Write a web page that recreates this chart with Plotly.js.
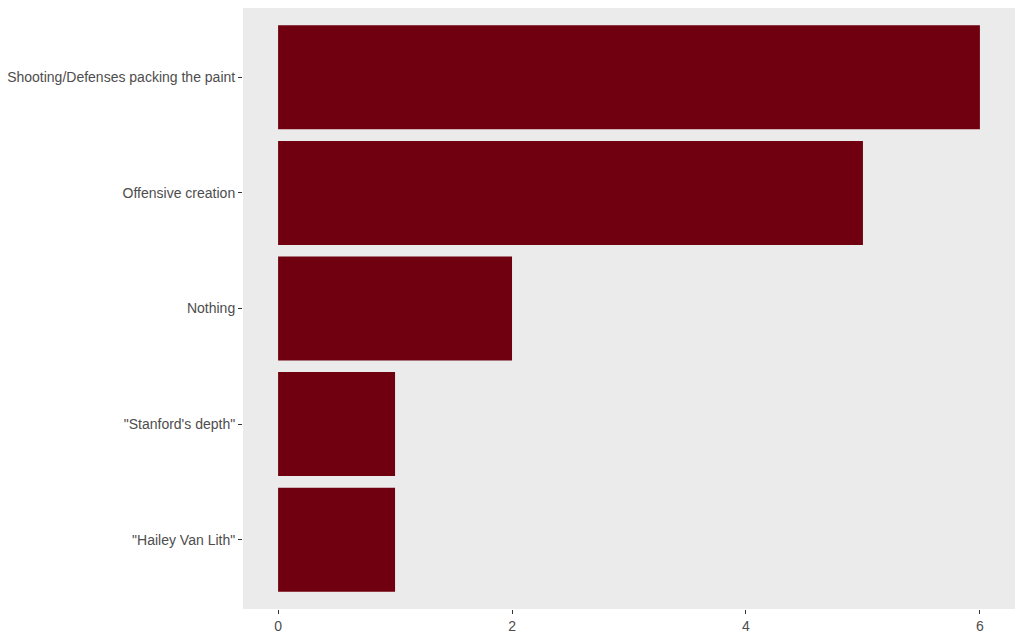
<!DOCTYPE html>
<html>
<head>
<meta charset="utf-8">
<script src="https://cdn.plot.ly/plotly-3.0.1.min.js"></script>
<style>html,body{margin:0;padding:0;background:#fff;}#chart{width:1024px;height:639px;}</style>
</head>
<body>
<div id="chart"></div>
<script>
const categories = ['"Hailey Van Lith"', '"Stanford\'s depth"', 'Nothing', 'Offensive creation', 'Shooting/Defenses packing the paint'];
const counts = [1, 1, 2, 5, 6];
const xTicks = [0, 2, 4, 6];

Plotly.newPlot('chart', [{
  type: 'bar',
  orientation: 'h',
  y: categories,
  x: counts,
  width: 0.9,
  marker: {color: '#70000f', line: {width: 0}},
  hoverinfo: 'x+y'
}], {
  width: 1024, height: 639,
  margin: {l: 243, r: 9, t: 8, b: 30},
  paper_bgcolor: '#ffffff',
  plot_bgcolor: '#ebebeb',
  showlegend: false,
  font: {family: 'Liberation Sans, Arial, sans-serif', size: 14, color: '#4d4d4d'},
  xaxis: {
    range: [-0.3, 6.3],
    tickvals: xTicks,
    ticktext: xTicks.map(String),
    showgrid: false, zeroline: false, showline: false,
    ticks: 'outside', ticklen: 4, tickwidth: 1, tickcolor: '#333333',
    tickfont: {size: 14, color: '#4d4d4d'}
  },
  yaxis: {
    type: 'category',
    categoryorder: 'array', categoryarray: categories,
    range: [-0.6, 4.6],
    showgrid: false, zeroline: false, showline: false,
    ticks: 'outside', ticklen: 4, tickwidth: 1, tickcolor: '#333333',
    tickfont: {size: 14, color: '#4d4d4d'}
  }
}, {displayModeBar: false, staticPlot: true});
</script>
</body>
</html>
